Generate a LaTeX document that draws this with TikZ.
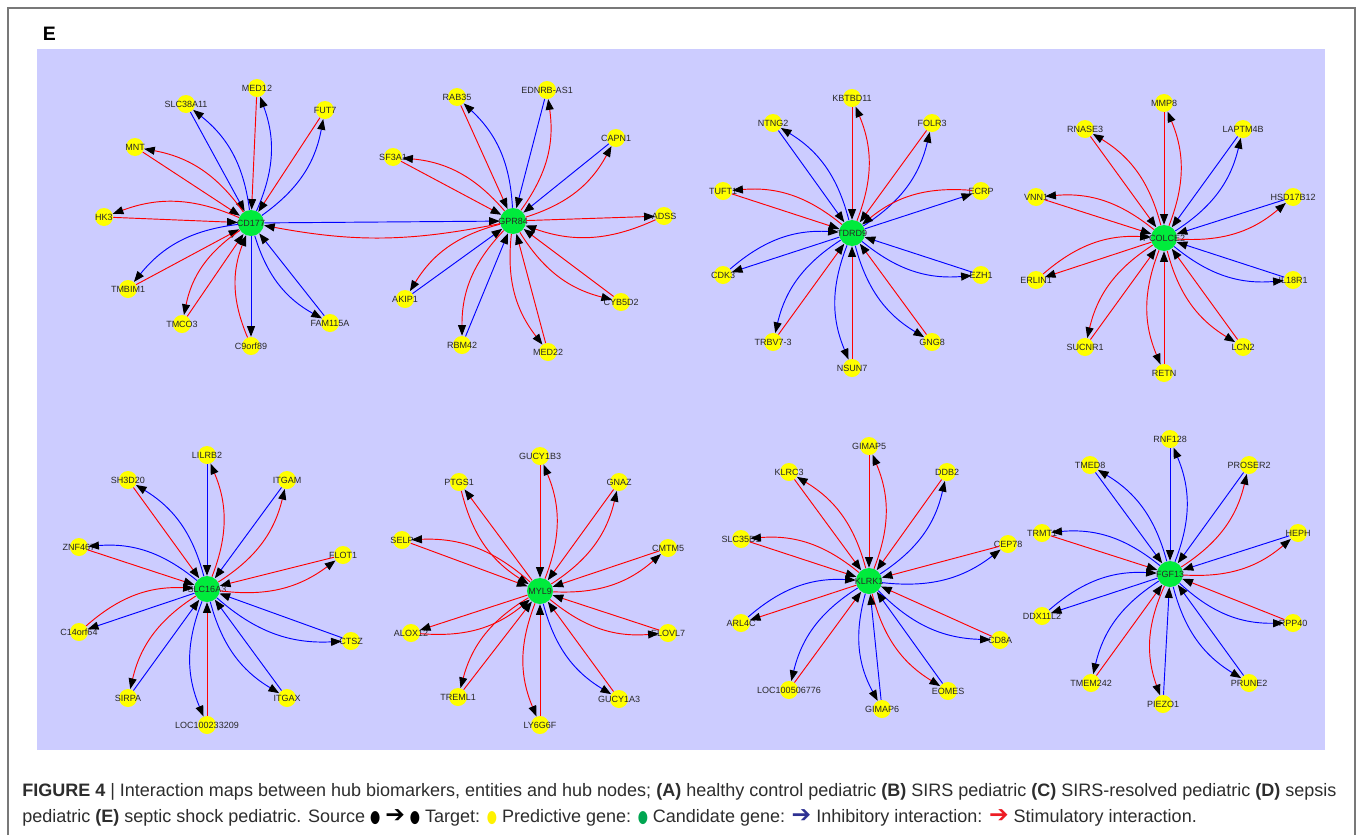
\documentclass[tikz,border=0pt]{standalone}
\usepackage{graphicx}
\usepackage{fontspec}
\setmainfont{Liberation Sans}
\newfontfamily\symfont{DejaVu Sans}
\usetikzlibrary{arrows.meta}

\definecolor{panel}{RGB}{204,204,255}
\definecolor{hubgreen}{RGB}{0,235,60}
\definecolor{satyellow}{RGB}{255,255,0}
\definecolor{rd}{RGB}{255,0,0}
\definecolor{bl}{RGB}{0,0,255}
\definecolor{txt}{RGB}{40,40,40}
\definecolor{captxt}{RGB}{45,45,45}
\definecolor{framegray}{RGB}{120,120,120}
\definecolor{keyyellow}{RGB}{255,242,0}
\definecolor{keygreen}{RGB}{0,166,81}
\definecolor{keyblue}{RGB}{46,49,146}
\definecolor{keyred}{RGB}{237,28,36}

\tikzset{
  sat/.style={circle, fill=satyellow, minimum size=13.5pt, inner sep=0pt},
  hub/.style={circle, fill=hubgreen, minimum size=19.5pt, inner sep=0pt},
  lbl/.style={inner sep=0pt, text=txt, font=\fontsize{6.75pt}{7pt}\selectfont},
  arr/.style={line width=0.7pt, -{Triangle[length=8pt,width=6pt,color=black]}},
  captionline/.style={anchor=base west, inner sep=0pt, text=captxt, font=\fontsize{13.5pt}{15pt}\selectfont},
}

% one straight and one curved interaction between a hub and a satellite
\newcommand\edgepairin[5]{% straight: satellite -> hub, curved: hub -> satellite
  \draw[#3,arr] (#2) -- (#1);
  \draw[#4,arr] (#1) to[bend #5=22] (#2);}
\newcommand\edgepairout[5]{% straight: hub -> satellite, curved: satellite -> hub
  \draw[#3,arr] (#1) -- (#2);
  \draw[#4,arr] (#2) to[bend #5=22] (#1);}

% hub node, its label, and the ring of satellites
\newcommand\hubcluster[5]{%
  \node[hub] (#1) at (#3,#4) {};
  \node[lbl] (#1t) at (#1) {#2};
  \foreach \sid/\slab/\sx/\sy/\scol/\sdir/\ccol/\bside in #5 {
    \node[sat] (#1s\sid) at (\sx,\sy) {};
    \node[lbl] (#1t\sid) at (#1s\sid) {\slab};
  }}
\newcommand\hubedges[2]{%
  \foreach \sid/\slab/\sx/\sy/\scol/\sdir/\ccol/\bside in #2 {
    \csname edgepair\sdir\endcsname{#1}{#1s\sid}{\scol}{\ccol}{\bside}
  }}

\newcommand\keydot[1]{\textcolor{#1}{\scalebox{0.65}[0.95]{\symfont ●}}}
\newcommand\keyarrow[1]{\textcolor{#1}{\scalebox{1.3}{\symfont ➔}}}

% id/label/x/y/straight colour/straight direction/curve colour/bend side
\def\listA{1/MED12/257/88/rd/in/bl/right, 2/SLC38A11/186/104/bl/in/bl/right,
  3/FUT7/325/110/rd/in/bl/right, 4/MNT/135/147/rd/in/rd/right,
  5/HK3/104/217/rd/in/rd/right, 6/TMBIM1/128/289/rd/in/bl/right,
  7/TMCO3/182/324/rd/in/rd/right, 8/C9orf89/251/346/bl/out/rd/left,
  9/FAM115A/330/323/bl/in/bl/right}
\def\listB{1/RAB35/457/97/rd/in/bl/right, 2/EDNRB-AS1/547/90/bl/in/rd/right,
  3/CAPN1/616/138/bl/in/rd/right, 4/SF3A1/393/157/rd/in/rd/right,
  5/ADSS/664/216/rd/out/rd/left, 6/CYB5D2/621/302/rd/in/rd/right,
  7/MED22/548/352/rd/in/rd/right, 8/RBM42/462/345/bl/in/rd/right,
  9/AKIP1/405/299/bl/in/rd/right}
\def\listC{1/KBTBD11/852/98/rd/in/rd/right, 2/NTNG2/773/123/bl/in/bl/right,
  3/FOLR3/932/123/rd/in/bl/right, 4/TUFT1/723/191/rd/in/rd/right,
  5/ECRP/981/191/bl/out/rd/right, 6/EZH1/981/275/bl/in/bl/right,
  7/CDK3/723/275/bl/out/bl/left, 8/TRBV7-3/773/342/rd/in/bl/right,
  9/NSUN7/852/368/rd/in/bl/right, 10/GNG8/932/342/rd/in/bl/right}
\def\listD{1/MMP8/1164/103/rd/in/rd/right, 2/RNASE3/1085/129/rd/in/rd/right,
  3/LAPTM4B/1243/129/bl/in/bl/right, 4/VNN1/1036/197/rd/in/rd/right,
  5/HSD17B12/1293/197/bl/in/rd/right, 6/IL18R1/1293/280/bl/in/bl/right,
  7/LCN2/1243/347/rd/in/rd/right, 8/RETN/1164/373/rd/in/rd/right,
  9/SUCNR1/1085/347/rd/in/rd/right, 10/ERLIN1/1036/280/rd/out/rd/left}
\def\listE{1/LILRB2/207/455/bl/in/rd/right, 2/SH3D20/128/480/rd/in/bl/right,
  3/ITGAM/287/480/bl/in/rd/right, 4/ZNF467/79/547/rd/in/bl/right,
  5/FLOT1/343/555/rd/in/rd/right, 6/CTSZ/351/641/bl/in/bl/right,
  7/ITGAX/287/698/bl/in/bl/right, 8/LOC100233209/207/725/rd/in/bl/right,
  9/SIRPA/128/698/bl/in/rd/right, 10/C14orf64/79/632/bl/out/rd/left}
\def\listF{1/GUCY1B3/540/456/rd/in/rd/right, 2/PTGS1/459/482/rd/out/rd/right,
  3/GNAZ/619/482/rd/in/rd/right, 4/SELP/402/540/rd/in/rd/right,
  5/CMTM5/668/548/rd/in/rd/right, 6/ELOVL7/668/633/rd/in/rd/right,
  7/GUCY1A3/619/699/rd/in/bl/right, 8/LY6G6F/540/725/rd/in/rd/right,
  9/TREML1/458/697/rd/in/rd/right, 10/ALOX12/411/633/rd/out/rd/right}
\def\listG{1/GIMAP5/869/446/rd/in/rd/right, 2/KLRC3/789/472/rd/in/rd/right,
  3/DDB2/947/472/rd/in/bl/right, 4/SLC35D1/741/539/rd/in/rd/right,
  5/CEP78/1008/544/rd/in/bl/right, 6/CD8A/1000/640/rd/in/bl/right,
  7/EOMES/948/691/bl/in/rd/right, 8/GIMAP6/882/709/bl/in/bl/right,
  9/LOC100506776/789/690/rd/in/bl/right, 10/ARL4C/741/623/rd/out/bl/left}
\def\listH{1/RNF128/1170/439/bl/in/bl/right, 2/TMED8/1090/465/bl/in/bl/right,
  3/PROSER2/1249/465/bl/in/rd/right, 4/HEPH/1298/533/bl/in/rd/right,
  5/RPP40/1293/623/rd/in/bl/right, 6/PRUNE2/1249/683/bl/in/bl/right,
  7/PIEZO1/1163/704/bl/in/rd/right, 8/TMEM242/1091/683/rd/in/bl/right,
  9/DDX11L2/1042/616/bl/out/bl/left, 10/TRMT1/1042/533/rd/in/bl/right}

\begin{document}
\begin{tikzpicture}[x=0.75pt, y=-0.75pt]
  \useasboundingbox (0,0) rectangle (1358,835);
  \fill[white] (0,0) rectangle (1358,835);
  \draw[framegray, line width=1.1pt] (8,835) -- (8,8) -- (1355,8) -- (1355,835);

  \node[anchor=base west, inner sep=0pt, font=\fontsize{14.6pt}{16pt}\selectfont\bfseries] (panelE) at (42.5,40.5) {E};
  \fill[panel] (37,49) rectangle (1325,750);

  % nodes
  \hubcluster{h1}{CD177}{251}{223}{\listA}
  \hubcluster{h2}{GPR84}{513}{221}{\listB}
  \hubcluster{h3}{TDRD9}{852}{233}{\listC}
  \hubcluster{h4}{PCOLCE2}{1164}{238}{\listD}
  \hubcluster{h5}{SLC16A3}{207}{589}{\listE}
  \hubcluster{h6}{MYL9}{540}{591}{\listF}
  \hubcluster{h7}{KLRK1}{869}{581}{\listG}
  \hubcluster{h8}{FGF13}{1170}{574}{\listH}

  % interactions
  \hubedges{h1}{\listA}
  \hubedges{h2}{\listB}
  \hubedges{h3}{\listC}
  \hubedges{h4}{\listD}
  \hubedges{h5}{\listE}
  \hubedges{h6}{\listF}
  \hubedges{h7}{\listG}
  \hubedges{h8}{\listH}
  \draw[bl,arr] (h1) -- (h2);
  \draw[rd,arr] (h2) to[bend left=11] (h1);

  % caption
  \node[captionline] (cap1) at (22,796) {\textbf{FIGURE 4} | Interaction maps between hub biomarkers, entities and hub nodes; \textbf{(A)} healthy control pediatric \textbf{(B)} SIRS pediatric \textbf{(C)} SIRS-resolved pediatric \textbf{(D)} sepsis};
  \node[captionline] (cap2) at (22,822) {pediatric \textbf{(E)} septic shock pediatric. Source \keydot{black} \keyarrow{black} \keydot{black} Target: \keydot{keyyellow} Predictive gene: \keydot{keygreen} Candidate gene: \keyarrow{keyblue} Inhibitory interaction: \keyarrow{keyred} Stimulatory interaction.};
\end{tikzpicture}
\end{document}
